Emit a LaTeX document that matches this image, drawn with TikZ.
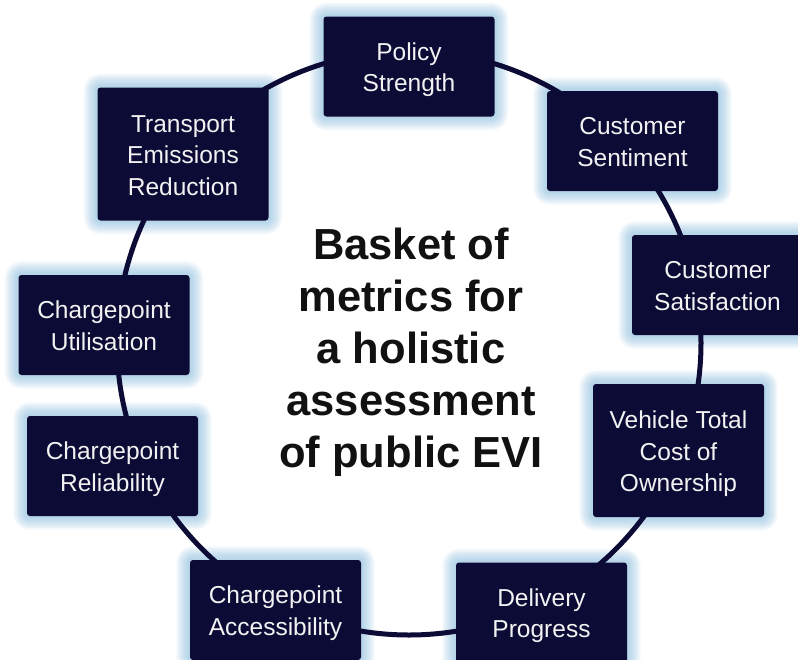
\documentclass[tikz,border=0pt]{standalone}
\usepackage{fontspec}
\setmainfont{Liberation Sans}
\definecolor{navy}{HTML}{0C0B36}
\definecolor{glowc}{RGB}{130,185,222}
\definecolor{titlec}{HTML}{111111}
\pgfdeclarelayer{paper}
\pgfdeclarelayer{glowlayer}
\pgfdeclarelayer{ringlayer}
\pgfsetlayers{paper,glowlayer,ringlayer,main}
\newcommand\mtext[2]{\rule{0pt}{25pt}#1\\#2\rule[-6pt]{0pt}{0pt}}
\begin{document}
\begin{tikzpicture}[x=1pt,y=-1pt,
  metric/.style={fill=navy, rounded corners=3pt, minimum width=171pt, minimum height=100pt,
    inner sep=0pt, align=center, text=white!95!black, font=\fontsize{24.5}{31.5}\selectfont},
  tall/.style={minimum height=133pt},
  ring/.style={draw=navy, line width=5pt},
  glowline/.style={draw=glowc, opacity=0.085, rounded corners=3pt, line join=round},
  title/.style={font=\fontsize{43.5}{52}\selectfont\bfseries, align=center, text=titlec}]
\useasboundingbox (0,0) rectangle (798,659);
\begin{pgfonlayer}{paper}
  \fill[white] (0,0) rectangle (798,659);
\end{pgfonlayer}
\coordinate (hub) at (409,343);
\node[metric] (policy) at (409,66.5) {\mtext{Policy}{Strength}};
\node[metric] (sentiment) at (632.5,141) {\mtext{Customer}{Sentiment}};
\node[metric] (satisfaction) at (717.5,285) {\mtext{Customer}{Satisfaction}};
\node[metric,tall] (tco) at (678.5,450.5) {\mtext{Vehicle Total\\Cost of}{Ownership}};
\node[metric] (delivery) at (541.5,612.5) {\mtext{Delivery}{Progress}};
\node[metric] (access) at (275.5,610) {\mtext{Chargepoint}{Accessibility}};
\node[metric] (reliab) at (112.5,466) {\mtext{Chargepoint}{Reliability}};
\node[metric] (util) at (104,325) {\mtext{Chargepoint}{Utilisation}};
\node[metric,tall] (emis) at (183,154) {\mtext{Transport\\Emissions}{Reduction}};
\node[title] (title) at (411,352) {Basket of\\metrics for\\a holistic\\assessment\\of public EVI};
\begin{pgfonlayer}{glowlayer}
  \foreach \n in {policy,sentiment,satisfaction,tco,delivery,access,reliab,util,emis}{
    \foreach \w in {3,6,9,12,15,18,21,24,27}{
      \draw[glowline, line width=\w pt] (\n.south west) rectangle (\n.north east);
    }
  }
\end{pgfonlayer}
\begin{pgfonlayer}{ringlayer}
  \draw[ring] (hub) circle[radius=292];
\end{pgfonlayer}
\end{tikzpicture}
\end{document}
